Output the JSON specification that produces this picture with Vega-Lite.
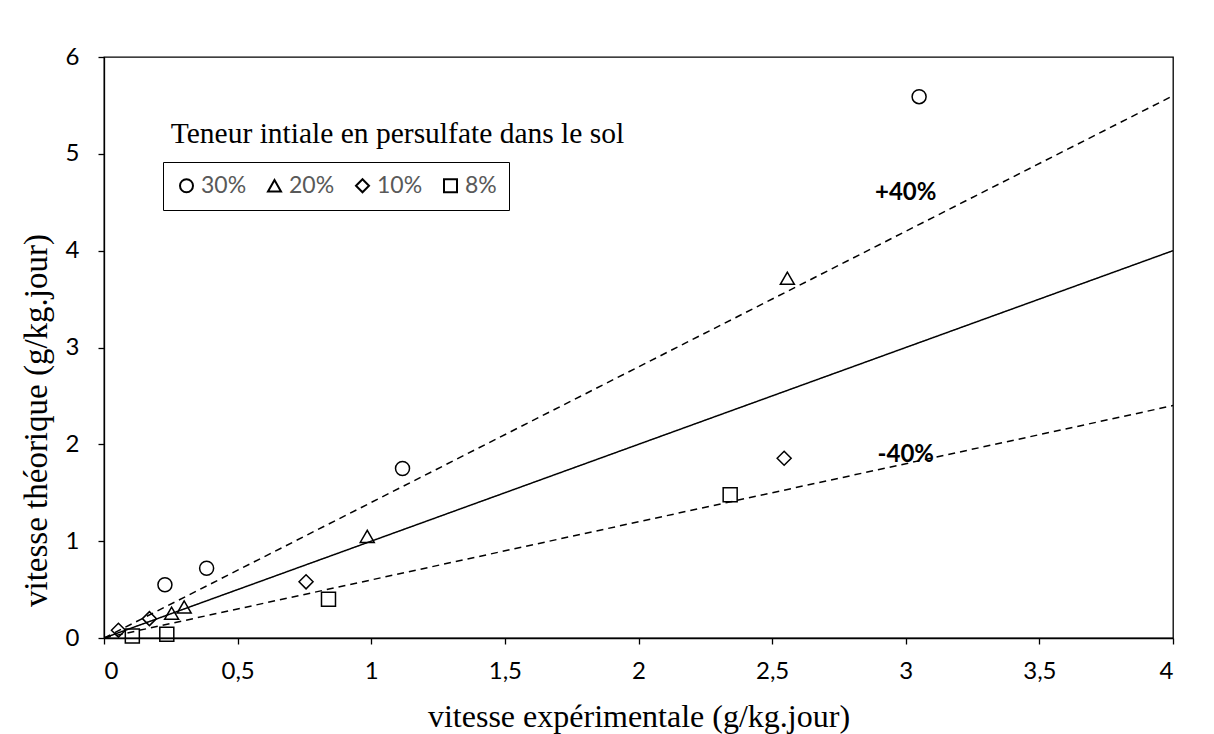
{
  "$schema": "https://vega.github.io/schema/vega-lite/v6.json",
  "width": 1069,
  "height": 581,
  "autosize": {"type": "none"},
  "padding": {"left": 104, "top": 57, "right": 41, "bottom": 96},
  "background": "white",
  "config": {
    "view": {"stroke": "black", "strokeWidth": 1.3},
    "axis": {
      "grid": false,
      "domainColor": "black",
      "domainWidth": 1.3,
      "tickColor": "black",
      "tickWidth": 1.3,
      "tickSize": 6,
      "labelFont": "Lato",
      "labelFontSize": 24,
      "labelColor": "black",
      "titleFont": "Liberation Serif",
      "titleFontSize": 32,
      "titleFontWeight": "normal",
      "titleColor": "black"
    }
  },
  "datasets": {
    "pts": [
      {"vexp": 0.228, "vth": 0.55, "teneur": "30%"},
      {"vexp": 0.384, "vth": 0.72, "teneur": "30%"},
      {"vexp": 1.117, "vth": 1.75, "teneur": "30%"},
      {"vexp": 3.05, "vth": 5.59, "teneur": "30%"},
      {"vexp": 0.253, "vth": 0.255, "teneur": "20%"},
      {"vexp": 0.30, "vth": 0.32, "teneur": "20%"},
      {"vexp": 0.985, "vth": 1.05, "teneur": "20%"},
      {"vexp": 2.557, "vth": 3.715, "teneur": "20%"},
      {"vexp": 0.054, "vth": 0.08, "teneur": "10%"},
      {"vexp": 0.17, "vth": 0.20, "teneur": "10%"},
      {"vexp": 0.756, "vth": 0.58, "teneur": "10%"},
      {"vexp": 2.545, "vth": 1.856, "teneur": "10%"},
      {"vexp": 0.106, "vth": 0.02, "teneur": "8%"},
      {"vexp": 0.235, "vth": 0.04, "teneur": "8%"},
      {"vexp": 0.84, "vth": 0.40, "teneur": "8%"},
      {"vexp": 2.343, "vth": 1.48, "teneur": "8%"}
    ],
    "lines": [
      {"vexp": 0, "vth": 0, "ligne": "egal", "dash": "solid"},
      {"vexp": 4, "vth": 4, "ligne": "egal", "dash": "solid"},
      {"vexp": 0, "vth": 0, "ligne": "plus40", "dash": "dashed"},
      {"vexp": 4, "vth": 5.6, "ligne": "plus40", "dash": "dashed"},
      {"vexp": 0, "vth": 0, "ligne": "moins40", "dash": "dashed"},
      {"vexp": 4, "vth": 2.4, "ligne": "moins40", "dash": "dashed"}
    ],
    "labels": [
      {"vexp": 3.0, "vth": 4.6, "txt": "+40%"},
      {"vexp": 3.0, "vth": 1.89, "txt": "-40%"}
    ],
    "title": [
      {"vexp": 0.25, "vth": 5.2, "txt": "Teneur intiale en persulfate dans le sol"}
    ]
  },
  "encoding": {
    "x": {
      "field": "vexp", "type": "quantitative",
      "scale": {"domain": [0, 4], "nice": false, "zero": true},
      "axis": {"values": [0, 0.5, 1, 1.5, 2, 2.5, 3, 3.5, 4], "labelExpr": "replace(toString(datum.value), '.', ',')", "title": "vitesse expérimentale (g/kg.jour)", "labelFontSize": 24, "labelPadding": 15, "titlePadding": 18}
    },
    "y": {
      "field": "vth", "type": "quantitative",
      "scale": {"domain": [0, 6], "nice": false},
      "axis": {"values": [0, 1, 2, 3, 4, 5, 6], "title": "vitesse théorique (g/kg.jour)", "labelFontSize": 24, "labelPadding": 19, "titlePadding": 12, "titleY": 363, "titleFontSize": 33}
    }
  },
  "layer": [
    {
      "data": {"name": "lines"},
      "mark": {"type": "line", "color": "black", "strokeWidth": 1.5, "clip": true},
      "encoding": {
        "detail": {"field": "ligne"},
        "strokeDash": {"field": "dash", "type": "nominal", "scale": {"domain": ["solid", "dashed"], "range": [[1, 0], [7, 5]]}, "legend": null}
      }
    },
    {
      "data": {"name": "pts"},
      "mark": {"type": "point", "filled": false, "color": "black", "strokeWidth": 1.5, "size": 196, "opacity": 1},
      "encoding": {
        "shape": {
          "field": "teneur", "type": "nominal",
          "scale": {"domain": ["30%", "20%", "10%", "8%"], "range": ["circle", "triangle-up", "diamond", "square"]},
          "legend": {
            "title": null,
            "orient": "none",
            "legendX": 59,
            "legendY": 105,
            "direction": "horizontal",
            "columns": 4,
            "strokeColor": "black",
            "padding": 12,
            "symbolSize": 169,
            "symbolStrokeColor": "black",
            "symbolStrokeWidth": 2,
            "symbolFillColor": "white",
            "labelFont": "Lato",
            "labelFontSize": 23,
            "labelColor": "#595959",
            "labelOffset": 3,
            "columnPadding": 16
          }
        }
      }
    },
    {
      "data": {"name": "labels"},
      "mark": {"type": "text", "font": "Lato", "fontSize": 24, "fontWeight": "bold", "color": "black", "align": "center", "baseline": "middle"},
      "encoding": {"text": {"field": "txt"}}
    },
    {
      "data": {"name": "title"},
      "mark": {"type": "text", "font": "Liberation Serif", "fontSize": 29.5, "color": "black", "align": "left", "baseline": "middle"},
      "encoding": {"text": {"field": "txt"}}
    }
  ]
}
